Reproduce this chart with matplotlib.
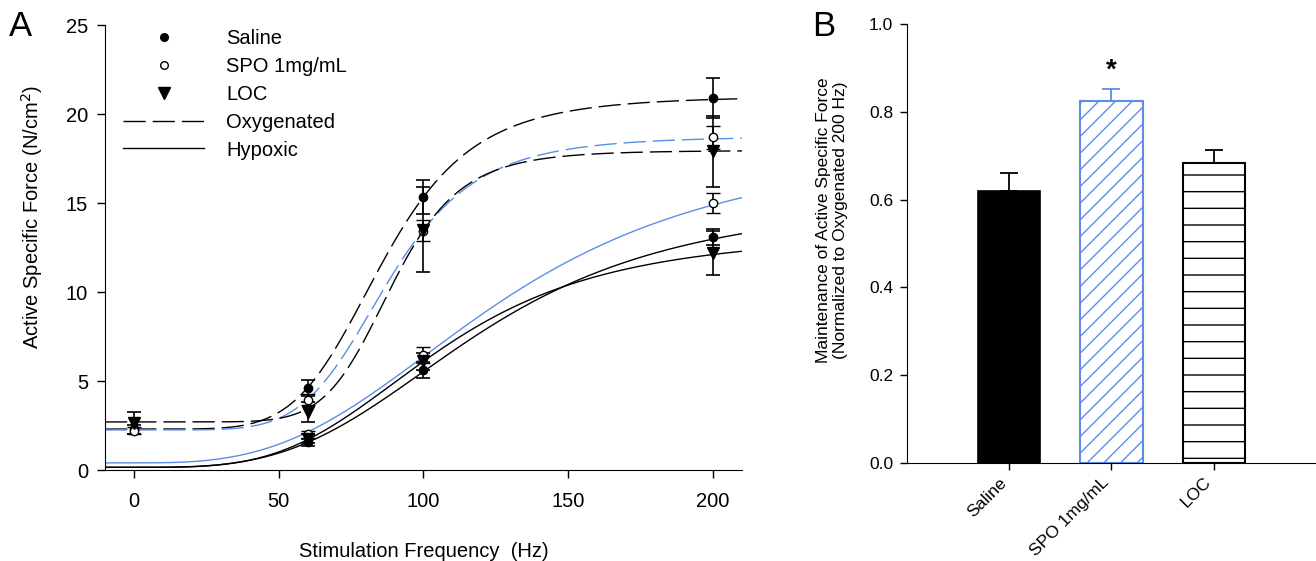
import numpy as np
import matplotlib.pyplot as plt
from matplotlib.lines import Line2D
from matplotlib.ticker import FormatStrFormatter

plt.rcParams['font.family'] = ['Liberation Sans', 'DejaVu Sans']
plt.rcParams['hatch.linewidth'] = 1.0

blue = '#5b8ee6'

#%% panel A data (means and SEM)

freq_oxy = [0, 60, 100, 200]
freq_hyp = [60, 100, 200]

saline_oxy = [2.3, 4.6, 15.35, 20.9]
saline_oxy_err = [0.25, 0.45, 0.95, 1.1]
spo_oxy = [2.2, 3.95, 13.45, 18.7]
spo_oxy_err = [0.2, 0.3, 0.6, 0.65]
loc_oxy = [2.65, 3.25, 13.5, 17.9]
loc_oxy_err = [0.62, 0.55, 2.4, 2.0]

saline_hyp = [1.55, 5.6, 13.1]
saline_hyp_err = [0.2, 0.45, 0.45]
spo_hyp = [2.0, 6.45, 15.0]
spo_hyp_err = [0.2, 0.45, 0.55]
loc_hyp = [1.75, 6.1, 12.2]
loc_hyp_err = [0.25, 0.5, 1.25]

# sigmoid fits: bottom, amplitude, half-max freq, slope
saline_oxy_fit = [2.3, 18.7, 85.8, 5.45]
spo_oxy_fit = [2.25, 16.5, 87.5, 5.7]
loc_oxy_fit = [2.7, 15.25, 89.0, 7.5]
saline_hyp_fit = [0.15, 15.2, 120.0, 3.3]
spo_hyp_fit = [0.4, 18.2, 127.0, 3.0]
loc_hyp_fit = [0.15, 13.2, 105.7, 3.55]

#%% panel B data

groups = ['Saline', 'SPO 1mg/mL', 'LOC']
maintenance = [0.62, 0.825, 0.683]
maintenance_err = [0.04, 0.027, 0.03]


def hill(x, p):
    bottom, amp, k, n = p
    x = np.clip(x, 0, None)
    return bottom + amp * x**n / (x**n + k**n)


fig = plt.figure(figsize=(13.16, 5.61), dpi=100)
ax1 = fig.add_axes([0.0798, 0.1622, 0.4840, 0.7932])
ax2 = fig.add_axes([0.6892, 0.1747, 0.3108, 0.7825])

#%% panel A

dash = (0, (16, 5))
xs = np.linspace(-10, 210, 400)
ax1.plot(xs, hill(xs, saline_oxy_fit), color='k', lw=1, ls=dash)
ax1.plot(xs, hill(xs, spo_oxy_fit), color=blue, lw=1, ls=dash)
ax1.plot(xs, hill(xs, loc_oxy_fit), color='k', lw=1, ls=dash)
ax1.plot(xs, hill(xs, saline_hyp_fit), color='k', lw=1)
ax1.plot(xs, hill(xs, spo_hyp_fit), color=blue, lw=1)
ax1.plot(xs, hill(xs, loc_hyp_fit), color='k', lw=1)

eb = dict(ecolor='k', elinewidth=1.2, capsize=5, capthick=1.2, ls='none', zorder=3)
for fq, ys, es in [(freq_oxy, saline_oxy, saline_oxy_err), (freq_hyp, saline_hyp, saline_hyp_err)]:
    ax1.errorbar(fq, ys, yerr=es, marker='o', ms=6, mfc='k', mec='k', **eb)
for fq, ys, es in [(freq_oxy, spo_oxy, spo_oxy_err), (freq_hyp, spo_hyp, spo_hyp_err)]:
    ax1.errorbar(fq, ys, yerr=es, marker='o', ms=6, mfc='white', mec='k', mew=1, **eb)
for fq, ys, es in [(freq_oxy, loc_oxy, loc_oxy_err), (freq_hyp, loc_hyp, loc_hyp_err)]:
    ax1.errorbar(fq, ys, yerr=es, marker='v', ms=8.5, mfc='k', mec='k', **eb)

ax1.set_xlim(-10, 210)
ax1.set_ylim(0, 25)
ax1.set_xticks([0, 50, 100, 150, 200])
ax1.set_yticks([0, 5, 10, 15, 20, 25])
ax1.spines['top'].set_visible(False)
ax1.spines['right'].set_visible(False)
ax1.tick_params(direction='out', length=5.8, width=1, labelsize=14.5)
ax1.tick_params(axis='x', pad=10)
ax1.tick_params(axis='y', pad=6.5)
ax1.set_xlabel('Stimulation Frequency  (Hz)', fontsize=14.5, labelpad=22)
ax1.set_ylabel('Active Specific Force (N/cm$^2$)', fontsize=14.5)
ax1.yaxis.set_label_coords(-0.094, 0.569)

handles = [Line2D([], [], ls='none', marker='o', color='k', ms=5.5),
           Line2D([], [], ls='none', marker='o', mfc='white', mec='k', ms=5.5),
           Line2D([], [], ls='none', marker='v', color='k', ms=8),
           Line2D([], [], color='k', lw=1, ls=dash),
           Line2D([], [], color='k', lw=1)]
labels = ['Saline', 'SPO 1mg/mL', 'LOC', 'Oxygenated', 'Hypoxic']
ax1.legend(handles, labels, loc='upper left', bbox_to_anchor=(0.016, 1.009),
           frameon=False, fontsize=14.5, handlelength=4, handletextpad=1.1,
           labelspacing=0.44, borderaxespad=0, numpoints=1)

#%% panel B

pos = np.arange(len(groups))
ax2.bar(pos[0], maintenance[0], width=0.61, color='k', edgecolor='k', lw=1.2)
ax2.bar(pos[1], maintenance[1], width=0.61, color='white', edgecolor=blue, lw=1.5, hatch='//')
ax2.bar(pos[2], maintenance[2], width=0.61, color='white', edgecolor='k', lw=1.5, hatch='-')
for i, c in enumerate(['k', blue, 'k']):
    ax2.errorbar(pos[i], maintenance[i], yerr=[[0], [maintenance_err[i]]], fmt='none',
                 ecolor=c, elinewidth=1.3, capsize=6.5, capthick=1.3)
ax2.text(pos[1], maintenance[1] + maintenance_err[1] + 0.012, '*', ha='center', va='bottom',
         fontsize=20, fontweight='bold')

ax2.set_xlim(-1, 3)
ax2.set_ylim(0, 1)
ax2.set_yticks([0, 0.2, 0.4, 0.6, 0.8, 1.0])
ax2.yaxis.set_major_formatter(FormatStrFormatter('%.1f'))
ax2.set_xticks(pos)
ax2.set_xticklabels(groups, rotation=45, ha='right', va='top')
ax2.spines['top'].set_visible(False)
ax2.spines['right'].set_visible(False)
ax2.tick_params(direction='out', length=5, width=1, labelsize=12.5)
ax2.tick_params(axis='y', pad=5)
ax2.set_ylabel('Maintenance of Active Specific Force\n(Normalized to Oxygenated 200 Hz)', fontsize=12.5)
ax2.yaxis.set_label_coords(-0.144, 0.553)

fig.text(9 / 1316, 1 - 36 / 561, 'A', fontsize=25, va='baseline')
fig.text(812 / 1316, 1 - 36 / 561, 'B', fontsize=25, va='baseline')

fig.savefig('out.png', dpi=100)
